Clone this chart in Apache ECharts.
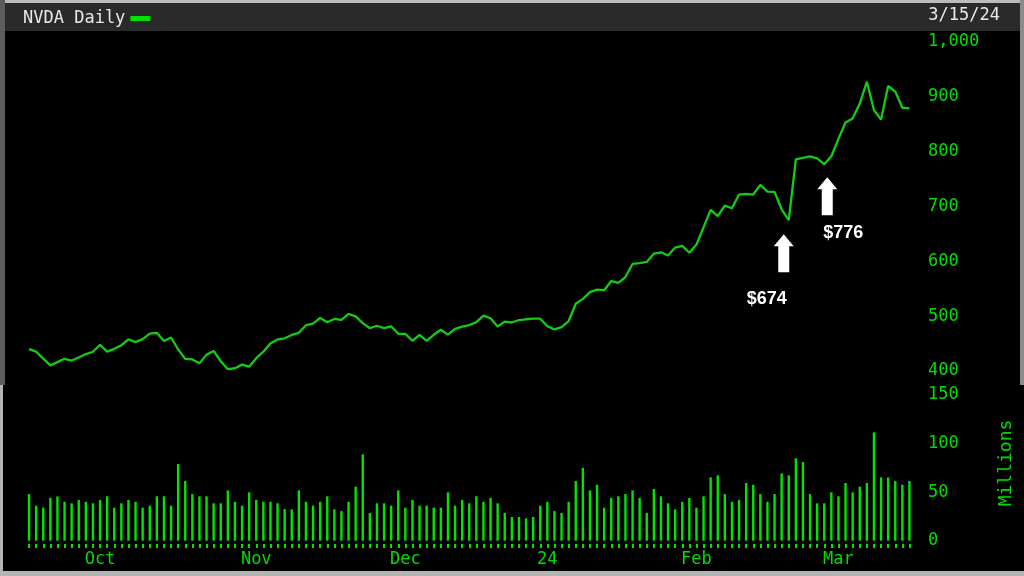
<!DOCTYPE html>
<html>
<head>
<meta charset="utf-8">
<script src="https://cdn.jsdelivr.net/npm/echarts@6/dist/echarts.min.js"></script>
<style>
html,body{margin:0;padding:0;background:#000;}
#chart{width:1024px;height:576px;}
</style>
</head>
<body>
<div id="chart"></div>
<script>
// ---- data ----
const chartTitle = 'NVDA Daily';
const chartDate = '3/15/24';
const volumeUnit = 'Millions';

const dates = [
  '2023-09-18','2023-09-19','2023-09-20','2023-09-21','2023-09-22','2023-09-25','2023-09-26','2023-09-27','2023-09-28','2023-09-29',
  '2023-10-02','2023-10-03','2023-10-04','2023-10-05','2023-10-06','2023-10-09','2023-10-10','2023-10-11','2023-10-12','2023-10-13',
  '2023-10-16','2023-10-17','2023-10-18','2023-10-19','2023-10-20','2023-10-23','2023-10-24','2023-10-25','2023-10-26','2023-10-27',
  '2023-10-30','2023-10-31',
  '2023-11-01','2023-11-02','2023-11-03','2023-11-06','2023-11-07','2023-11-08','2023-11-09','2023-11-10','2023-11-13','2023-11-14',
  '2023-11-15','2023-11-16','2023-11-17','2023-11-20','2023-11-21','2023-11-22','2023-11-24','2023-11-27','2023-11-28','2023-11-29',
  '2023-11-30',
  '2023-12-01','2023-12-04','2023-12-05','2023-12-06','2023-12-07','2023-12-08','2023-12-11','2023-12-12','2023-12-13','2023-12-14',
  '2023-12-15','2023-12-18','2023-12-19','2023-12-20','2023-12-21','2023-12-22','2023-12-26','2023-12-27','2023-12-28','2023-12-29',
  '2024-01-02','2024-01-03','2024-01-04','2024-01-05','2024-01-08','2024-01-09','2024-01-10','2024-01-11','2024-01-12','2024-01-16',
  '2024-01-17','2024-01-18','2024-01-19','2024-01-22','2024-01-23','2024-01-24','2024-01-25','2024-01-26','2024-01-29','2024-01-30',
  '2024-01-31',
  '2024-02-01','2024-02-02','2024-02-05','2024-02-06','2024-02-07','2024-02-08','2024-02-09','2024-02-12','2024-02-13','2024-02-14',
  '2024-02-15','2024-02-16','2024-02-20','2024-02-21','2024-02-22','2024-02-23','2024-02-26','2024-02-27','2024-02-28','2024-02-29',
  '2024-03-01','2024-03-04','2024-03-05','2024-03-06','2024-03-07','2024-03-08','2024-03-11','2024-03-12','2024-03-13','2024-03-14',
  '2024-03-15'
];

const closePrices = [
  439.7, 435.2, 422.4, 410.2, 416.1, 422.2, 419.1, 424.7, 430.9, 435.0,
  447.8, 435.2, 440.4, 446.9, 457.6, 452.7, 458.0, 468.1, 469.5, 454.6,
  461.0, 439.4, 422.0, 421.0, 413.9, 429.8, 436.6, 417.8, 403.3, 405.0,
  411.6, 407.8,
  423.3, 435.1, 450.1, 457.5, 459.6, 465.7, 469.5, 483.4, 486.2, 496.6,
  488.9, 494.8, 493.0, 504.1, 499.4, 487.2, 477.8, 482.4, 478.2, 481.4,
  467.7,
  467.7, 455.1, 465.7, 455.0, 466.0, 475.1, 466.3, 476.6, 480.9, 483.5,
  488.9, 500.8, 496.0, 481.1, 489.9, 488.3, 492.8, 494.2, 495.2, 495.2,
  481.7, 475.7, 480.0, 491.0, 522.5, 531.4, 543.5, 548.2, 547.1, 563.8,
  560.5, 571.1, 594.9, 596.5, 598.7, 613.6, 616.2, 610.3, 624.7, 627.7,
  615.3,
  630.3, 661.6, 693.3, 682.2, 701.0, 696.4, 721.3, 722.5, 721.3, 739.0,
  726.6, 726.1, 694.5, 674.7, 785.4, 788.2, 790.9, 787.0, 776.6, 791.1,
  822.8, 852.4, 859.6, 887.0, 926.7, 875.3, 857.7, 919.1, 908.9, 879.4,
  878.4
];

const volumes = [
  48, 36, 34, 44, 45.6, 40, 38.5, 42, 40, 38.5,
  42, 45.7, 34, 38.5, 42, 40, 34, 36, 45.7, 45.7,
  36, 79, 61.4, 48, 45.7, 45.7, 38.5, 38.5, 51.8, 40,
  36, 49.8,
  42, 40, 40, 38.5, 32.6, 32.3, 51.8, 40, 36, 40,
  45.7, 32.3, 30.5, 40, 55.6, 88.9, 28.5, 38.5, 38.5, 36,
  51.8,
  34, 42, 36, 36, 34, 34, 49.8, 36, 42, 38.5,
  45.7, 40, 44, 38.5, 28.5, 24.4, 24.4, 23, 24.4, 36,
  40, 30.5, 28.5, 40, 61.4, 75, 51.8, 57.6, 34, 44,
  45.7, 48, 51.8, 44, 28.5, 53.2, 45.7, 38.5, 32.3, 40,
  44,
  34, 45.7, 65.2, 67.3, 48, 40, 42, 59.4, 57.6, 48,
  40, 48, 69.3, 67.3, 84.8, 81, 48, 38.5, 38.5, 49.8,
  45.7, 59.4, 49.8, 55.6, 59.4, 111.5, 65.2, 65.2, 61.4, 57.6,
  61.4
];

const monthTickLabels = [
  ['2023-10-02', 'Oct'],
  ['2023-11-01', 'Nov'],
  ['2023-12-01', 'Dec'],
  ['2024-01-02', '24'],
  ['2024-02-01', 'Feb'],
  ['2024-03-01', 'Mar']
];

const priceTicks = [400, 500, 600, 700, 800, 900, 1000];
const priceTickLabels = ['400', '500', '600', '700', '800', '900', '1,000'];
const volumeTicks = [0, 50, 100, 150];

const annotations = [
  { date: '2024-02-21', value: 674.7, text: '$674' },
  { date: '2024-02-28', value: 776.6, text: '$776' }
];

// ---- styles ----
const GREEN_LINE = '#14cc14';
const GREEN_BAR = '#00e400';
const GREEN_TEXT = '#00dd00';
const MONO = '"DejaVu Sans Mono", "Liberation Mono", monospace';
const labelMap = {};
monthTickLabels.forEach(p => { labelMap[p[0]] = p[1]; });

const arrowPath = 'path://M10,0 L20,12 L15.5,12 L15.5,38 L4.5,38 L4.5,12 L0,12 Z';
const annotationStyle = [
  { symbolOffset: [-5, 33], label: { offset: [-17, 46] } },
  { symbolOffset: [3, 32], label: { offset: [16, 37] } }
];

const GRID_LEFT = 25.5, GRID_W = 887.5;

const chart = echarts.init(document.getElementById('chart'), null, { renderer: 'canvas' });
chart.setOption({
  animation: false,
  backgroundColor: '#000',
  legend: {
    data: [chartTitle],
    left: 18, top: 5,
    align: 'right',
    icon: 'rect',
    itemWidth: 20, itemHeight: 5,
    selectedMode: false,
    textStyle: { color: '#e8e8e8', fontFamily: MONO, fontSize: 17 }
  },
  graphic: [
    { type: 'rect', shape: { x: 0, y: 0, width: 1024, height: 31 }, style: { fill: '#2a2a2a' }, z: -10 },
    { type: 'rect', shape: { x: 0, y: 0, width: 1024, height: 3 }, style: { fill: '#bcbcbc' }, z: -9 },
    { type: 'rect', shape: { x: 0, y: 0, width: 5, height: 385 }, style: { fill: '#5c5c5c' }, z: -9 },
    { type: 'rect', shape: { x: 0, y: 385, width: 3, height: 191 }, style: { fill: '#b4b4b4' }, z: -9 },
    { type: 'rect', shape: { x: 1020, y: 0, width: 4, height: 385 }, style: { fill: '#8c8c8c' }, z: -9 },
    { type: 'rect', shape: { x: 0, y: 571, width: 1024, height: 5 }, style: { fill: '#b4b4b4' }, z: -9 },
    { type: 'text', right: 24, top: 7,
      style: { text: chartDate, fill: '#e8e8e8', font: '17px ' + MONO } },
    { type: 'text', x: 1006, y: 463, rotation: Math.PI / 2,
      style: { text: volumeUnit, fill: GREEN_TEXT, font: '18px ' + MONO, align: 'center', verticalAlign: 'middle' } }
  ],
  grid: [
    { left: GRID_LEFT, width: GRID_W, top: 41.5, height: 329.5 },
    { left: GRID_LEFT, width: GRID_W, top: 395, height: 145.7 },
    { left: GRID_LEFT, width: GRID_W, top: 543, height: 1 }
  ],
  xAxis: [
    { type: 'category', gridIndex: 0, data: dates, show: false },
    { type: 'category', gridIndex: 1, data: dates, show: false },
    {
      type: 'category', gridIndex: 2, data: dates, position: 'bottom',
      axisLine: { show: false },
      axisTick: { show: true, interval: 0, alignWithLabel: true, length: 4,
                  lineStyle: { color: GREEN_BAR, width: 2 } },
      axisLabel: {
        color: GREEN_TEXT, fontFamily: MONO, fontSize: 17, margin: 7,
        interval: (i, v) => labelMap[v] !== undefined,
        formatter: v => labelMap[v] || ''
      },
      splitLine: { show: false }
    }
  ],
  yAxis: [
    {
      type: 'value', gridIndex: 0, position: 'right',
      min: priceTicks[0], max: priceTicks[priceTicks.length - 1], interval: 100,
      axisLine: { show: false }, axisTick: { show: false }, splitLine: { show: false },
      axisLabel: {
        color: GREEN_TEXT, fontFamily: MONO, fontSize: 17, margin: 15, align: 'left',
        formatter: v => { const k = priceTicks.indexOf(v); return k >= 0 ? priceTickLabels[k] : ''; }
      }
    },
    {
      type: 'value', gridIndex: 1, position: 'right',
      min: volumeTicks[0], max: volumeTicks[volumeTicks.length - 1], interval: 50,
      axisLine: { show: false }, axisTick: { show: false }, splitLine: { show: false },
      axisLabel: { color: GREEN_TEXT, fontFamily: MONO, fontSize: 17, margin: 15, align: 'left' }
    },
    { type: 'value', gridIndex: 2, show: false }
  ],
  series: [
    {
      name: chartTitle, type: 'line', xAxisIndex: 0, yAxisIndex: 0,
      data: closePrices, showSymbol: false, symbol: 'none',
      lineStyle: { color: GREEN_LINE, width: 2.3 }, itemStyle: { color: '#00e000' },
      markPoint: {
        symbol: arrowPath, symbolSize: [20, 38],
        itemStyle: { color: '#ffffff' },
        label: { show: true, position: 'inside', color: '#ffffff',
                 fontFamily: '"Liberation Sans", Arial, sans-serif', fontWeight: 'bold', fontSize: 18 },
        data: annotations.map((a, k) => ({
          coord: [a.date, a.value],
          symbolOffset: annotationStyle[k].symbolOffset,
          label: Object.assign({ formatter: a.text }, annotationStyle[k].label)
        }))
      }
    },
    {
      name: 'Volume', type: 'bar', xAxisIndex: 1, yAxisIndex: 1,
      data: volumes, barWidth: 2.4,
      itemStyle: { color: GREEN_BAR }
    }
  ]
});
</script>
</body>
</html>
